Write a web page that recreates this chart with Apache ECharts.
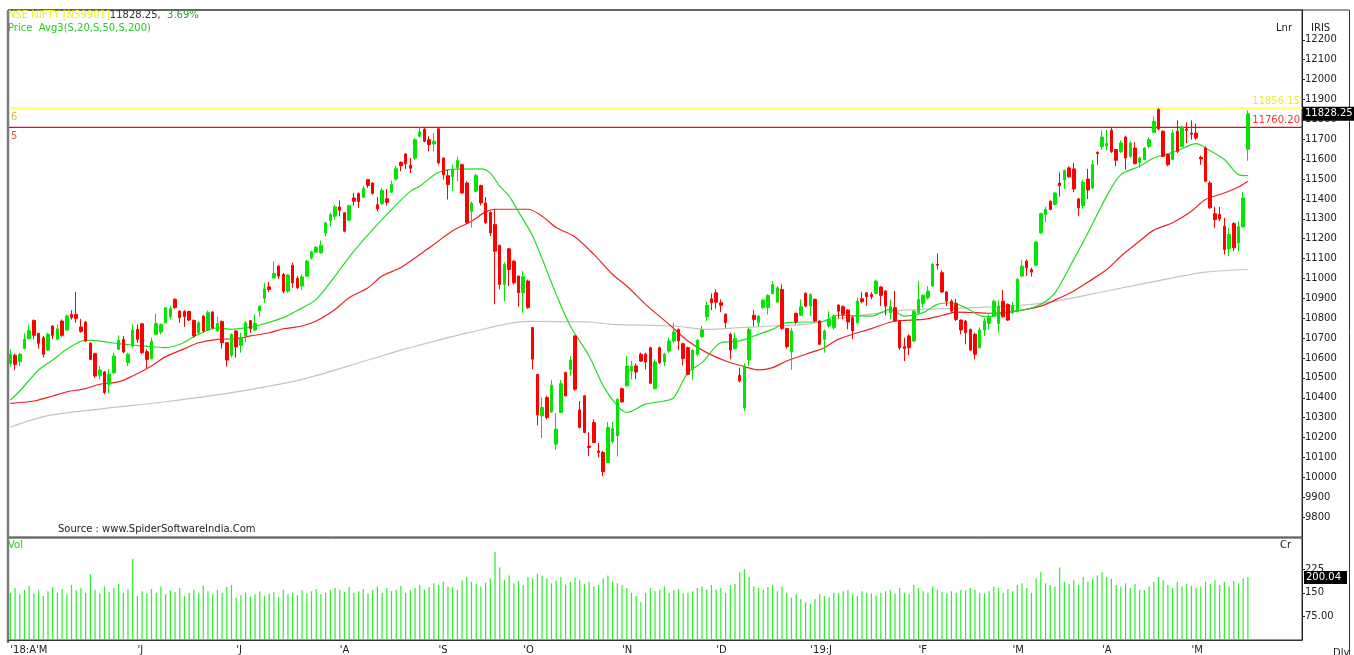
<!DOCTYPE html>
<html>
<head>
<meta charset="utf-8">
<script src="https://cdn.jsdelivr.net/npm/echarts@6/dist/echarts.min.js"></script>
<style>
  html, body { margin: 0; padding: 0; background: #fff; }
  #chart { width: 1354px; height: 655px; }
</style>
</head>
<body>
<div id="chart"></div>
<script>
// daily candles, [open, high, low, close], Apr 2018 .. 20 May 2019
const candles = [
  [10573,10644,10557,10619],[10614,10622,10540,10568],[10582,10627,10560,10619],[10647,10724,10644,10694],[10697,10769,10694,10739],
  [10789,10794,10694,10714],[10724,10727,10647,10674],[10702,10711,10602,10619],[10640,10727,10635,10719],[10761,10764,10694,10714],
  [10694,10769,10690,10747],[10786,10794,10707,10714],[10741,10819,10736,10811],[10819,10841,10794,10803],[10819,10933,10777,10799],
  [10756,10797,10727,10734],[10781,10786,10680,10685],[10674,10680,10590,10593],[10622,10627,10501,10510],[10513,10560,10493,10540],
  [10530,10535,10418,10426],[10468,10544,10423,10518],[10526,10627,10518,10610],[10644,10714,10640,10690],[10694,10711,10624,10630],
  [10577,10627,10560,10619],[10660,10769,10652,10741],[10744,10769,10677,10694],[10772,10777,10619,10627],[10632,10644,10547,10593],
  [10597,10702,10593,10685],[10719,10824,10714,10774],[10731,10774,10719,10769],[10777,10856,10774,10853],[10808,10861,10794,10849],
  [10895,10900,10848,10853],[10836,10841,10777,10804],[10834,10841,10757,10808],[10834,10838,10786,10791],[10789,10794,10702,10711],
  [10727,10786,10719,10777],[10811,10814,10727,10736],[10741,10839,10736,10828],[10831,10836,10744,10752],[10736,10808,10731,10774],
  [10784,10789,10647,10677],[10677,10680,10557,10590],[10614,10724,10602,10719],[10736,10739,10602,10655],[10664,10727,10627,10702],
  [10711,10786,10680,10777],[10788,10791,10727,10747],[10741,10819,10736,10774],[10836,10864,10808,10861],[10900,10978,10878,10948],
  [10958,10982,10931,10945],[11003,11087,11000,11025],[11062,11069,10998,11012],[11020,11028,10925,10936],[10936,11023,10928,11017],
  [11067,11079,10953,10978],[11000,11012,10948,10953],[10962,11020,10941,11008],[11012,11095,11008,11087],[11104,11140,11095,11134],
  [11132,11162,11129,11157],[11129,11191,11125,11167],[11229,11286,11212,11279],[11291,11330,11263,11321],[11313,11371,11296,11360],
  [11360,11393,11313,11343],[11330,11333,11232,11238],[11293,11371,11288,11366],[11405,11430,11366,11388],[11427,11433,11355,11386],
  [11408,11464,11405,11452],[11497,11500,11455,11468],[11480,11483,11422,11427],[11371,11410,11338,11350],[11376,11455,11371,11443],
  [11401,11450,11366,11383],[11433,11492,11430,11472],[11500,11567,11493,11552],[11584,11589,11539,11567],[11626,11631,11550,11577],
  [11569,11606,11530,11554],[11606,11706,11597,11698],[11715,11760.2,11710,11738],[11751,11757,11685,11690],[11698,11715,11639,11673],
  [11676,11731,11639,11690],[11753,11755,11573,11581],[11606,11606,11497,11522],[11517,11547,11397,11472],[11511,11572,11439,11547],
  [11556,11611,11489,11593],[11572,11578,11427,11430],[11480,11489,11276,11280],[11338,11388,11255,11377],[11439,11527,11434,11517],
  [11467,11472,11367,11380],[11380,11410,11276,11280],[11333,11338,11213,11229],[11271,11350,10870,11137],[11166,11171,10945,10970],
  [10970,11082,10886,11070],[11149,11154,10962,11045],[11087,11092,10970,10978],[11012,11015,10858,10928],[10928,11037,10828,11009],
  [10987,10995,10848,10853],[10753,10755,10543,10594],[10518,10520,10262,10313],[10309,10401,10197,10351],[10401,10410,10292,10301],
  [10329,10490,10323,10463],[10167,10323,10138,10242],[10326,10490,10323,10471],[10527,10532,10406,10410],[10543,10610,10510,10590],
  [10711,10714,10435,10443],[10339,10384,10246,10251],[10410,10413,10222,10226],[10157,10226,10108,10150],[10276,10292,10172,10175],
  [10133,10172,10100,10125],[10125,10133,10005,10028],[10075,10279,10072,10251],[10179,10279,10170,10246],[10209,10396,10105,10393],
  [10446,10451,10376,10379],[10460,10610,10456,10560],[10535,10585,10493,10557],[10560,10573,10493,10530],[10619,10627,10580,10585],
  [10619,10627,10543,10580],[10652,10657,10468,10473],[10446,10594,10443,10580],[10652,10657,10570,10577],[10580,10627,10560,10619],
  [10635,10702,10627,10686],[10686,10778,10677,10731],[10744,10748,10640,10686],[10672,10677,10563,10597],[10652,10657,10513,10518],
  [10543,10647,10490,10640],[10619,10697,10610,10689],[10707,10761,10702,10741],[10808,10886,10786,10865],[10898,10925,10841,10878],
  [10928,10945,10848,10881],[10878,10895,10831,10865],[10820,10825,10753,10778],[10719,10727,10594,10640],[10647,10727,10644,10697],
  [10513,10552,10476,10485],[10351,10573,10334,10560],[10590,10753,10560,10744],[10815,10841,10761,10794],[10778,10815,10758,10811],
  [10853,10898,10848,10891],[10853,10920,10819,10915],[10925,10987,10920,10970],[10881,10962,10878,10953],[10945,10970,10741,10748],
  [10748,10753,10647,10657],[10630,10753,10540,10736],[10825,10828,10769,10781],[10815,10895,10811,10858],[10925,10930,10855,10861],
  [10861,10925,10811,10920],[10895,10898,10780,10786],[10786,10790,10664,10669],[10694,10744,10627,10736],[10761,10836,10753,10794],
  [10753,10820,10744,10811],[10866,10870,10800,10835],[10858,10865,10794,10819],[10841,10845,10744,10781],[10803,10811,10694,10736],
  [10778,10903,10774,10886],[10898,10931,10875,10883],[10928,10931,10861,10908],[10920,10931,10895,10908],[10925,10995,10920,10987],
  [10957,10962,10861,10915],[10937,10942,10814,10861],[10828,10895,10794,10858],[10853,10937,10781,10786],[10786,10791,10640,10652],
  [10657,10702,10585,10647],[10711,10719,10614,10652],[10686,10841,10681,10836],[10828,10987,10819,10895],[10875,10920,10853,10915],
  [10903,10962,10895,10937],[10962,11079,10958,11071],[11071,11126,11045,11067],[11029,11042,10928,10932],[10932,10937,10861,10886],
  [10886,10895,10828,10836],[10875,10898,10786,10794],[10791,10794,10719,10741],[10786,10791,10669,10727],[10744,10748,10635,10640],
  [10719,10727,10594,10619],[10652,10753,10647,10741],[10741,10803,10711,10786],[10774,10819,10744,10803],[10811,10895,10808,10886],
  [10774,10891,10727,10861],[10886,10942,10803,10808],[10870,10875,10786,10791],[10828,10881,10819,10865],[10836,11004,10831,10995],
  [11012,11092,11009,11062],[11087,11096,11012,11054],[11045,11054,11009,11032],[11066,11188,11062,11183],[11229,11330,11226,11326],
  [11322,11360,11283,11347],[11388,11393,11343,11347],[11372,11434,11367,11430],[11480,11534,11413,11467],[11497,11547,11450,11544],
  [11556,11564,11506,11511],[11551,11581,11434,11450],[11400,11405,11313,11355],[11367,11497,11350,11484],[11500,11551,11400,11445],
  [11455,11594,11450,11572],[11634,11639,11572,11628],[11664,11745,11648,11711],[11668,11748,11645,11678],[11745,11762,11631,11639],
  [11648,11651,11564,11594],[11639,11695,11631,11681],[11711,11718,11547,11606],[11614,11690,11606,11681],[11656,11685,11573,11578],
  [11584,11614,11556,11606],[11598,11661,11594,11656],[11664,11711,11656,11698],[11735,11815,11731,11790],[11850,11856.15,11744,11752],
  [11740,11745,11610,11614],[11623,11628,11564,11572],[11598,11748,11594,11731],[11740,11795,11631,11639],[11664,11768,11661,11762],
  [11752,11785,11681,11745],[11731,11795,11698,11725],[11731,11778,11698,11706],[11609,11618,11572,11601],[11656,11664,11484,11489],
  [11480,11489,11350,11355],[11326,11360,11255,11296],[11322,11360,11288,11300],[11263,11305,11121,11146],[11149,11255,11112,11221],
  [11276,11283,11137,11154],[11179,11288,11137,11260],[11260,11434,11255,11405],[11650,11845,11592,11828.25]
]

// volume (Cr), one per candle
const volumes = [
  150,165,145,160,172,148,158,140,155,168, 150,162,145,175,158,166,150,210,160,148, 170,152,165,178,150,162,258,
  140,155,148,162,150,170,145,158,152,165, 140,150,160,148,172,155,145,160,150,168, 175,
  135,142,150,138,145,155,140,148,152,136, 160,145,150,142,158,148,155,162,145,150, 158,165,
  160,152,168,150,155,162,148,158,170,150, 165,155,160,172,150,158,165,175,160,168, 180,
  175,185,170,168,160,190,200,185,178,170, 182,195,280,230,190,205,180,188,
  175,200,195,210,205,195,180,188,200,176, 185,198,190,178,185,170,175,195,205,185, 180,
  175,165,150,140,120,150,165,155,160,170, 150,158,162,148,150,155,165,170,160,175,
  160,165,150,175,178,215,225,200,170,165, 160,168,175,155,170,150,135,145,130,120,
  115,130,145,140,135,150,148,155,160,145, 140,155,150,148,142,150,155,160,148,165, 150,145,175,
  165,155,150,170,160,152,148,155,150,160, 158,165,160,150,148,155,170,165,150,162,
  155,175,180,165,150,195,215,180,175,170, 230,185,178,190,175,200,185,195,205,
  215,200,195,175,170,180,165,178,160,158, 170,185,200,190,175,165,185,170,178,
  172,165,170,185,178,190,175,185,170,188, 180,195,200.04
]

// moving averages, [day, value]
const ma20 = [
  [0,10389],[2,10434],[6,10540],[9,10590],[12,10644],[16,10690],[19,10685],[23,10672],[26,10665],[30,10657],
  [33,10652],[36,10669],[39,10707],[42,10741],[44,10752],[47,10744],[50,10752],[53,10766],[58,10803],[61,10839],
  [65,10895],[69,11012],[73,11137],[77,11246],[81,11346],[85,11438],[87,11464],[91,11534],[95,11550],[100,11551],
  [102,11530],[104,11464],[106,11414],[108,11335],[111,11213],[116,10920],[119,10761],[123,10610],[126,10460],[129,10359],
  [131,10326],[135,10368],[139,10384],[141,10401],[144,10527],[147,10577],[151,10677],[155,10686],[158,10711],[162,10744],
  [165,10778],[169,10781],[172,10781],[176,10815],[183,10811],[187,10845],[190,10811],[194,10828],[197,10870],[200,10878],
  [203,10853],[206,10814],[208,10808],[212,10831],[216,10845],[219,10870],[222,10928],[226,11096],[229,11229],[233,11414],
  [236,11522],[240,11564],[243,11606],[247,11634],[251,11673],[252,11678],[254,11656],[258,11598],[261,11522],[263,11517]
]
const ma50 = [
  [0,10372],[5,10384],[9,10409],[12,10430],[16,10446],[19,10468],[23,10480],[26,10510],[30,10560],[33,10607],
  [37,10647],[40,10677],[44,10694],[48,10697],[51,10711],[55,10727],[58,10747],[62,10761],[65,10786],[69,10844],
  [72,10903],[76,10953],[79,11012],[83,11055],[87,11121],[90,11171],[94,11240],[98,11288],[101,11335],[103,11348],
  [110,11348],[113,11313],[116,11256],[120,11209],[124,11121],[128,11020],[131,10962],[135,10870],[140,10769],[144,10686],
  [148,10627],[152,10585],[156,10557],[159,10540],[162,10552],[165,10585],[169,10619],[173,10652],[176,10695],[183,10748],
  [188,10786],[194,10794],[198,10814],[201,10831],[205,10828],[208,10825],[212,10831],[215,10841],[219,10861],[222,10891],
  [226,10937],[229,10982],[233,11045],[236,11112],[240,11188],[243,11243],[247,11280],[251,11338],[254,11397],[258,11430],
  [261,11460],[263,11489]
]
const ma200 = [
  [0,10252],[8,10310],[19,10343],[33,10380],[47,10426],[62,10493],[76,10590],[83,10640],[87,10665],[97,10725],
  [110,10784],[123,10781],[128,10769],[141,10761],[148,10744],[155,10753],[162,10761],[169,10769],[176,10798],[190,10841],
  [205,10853],[219,10875],[233,10937],[247,11003],[254,11032],[263,11045]
]

// month ticks on the date axis
const monthTickIdx = [0, 27, 48, 70, 91, 109, 130, 150, 170, 193, 213, 232, 251]
const monthTickText = ["'18:A'M", "'J", "'J", "'A", "'S", "'O", "'N", "'D", "'19:J", "'F", "'M", "'A", "'M"]

const priceTicks = [9800, 9900, 10000, 10100, 10200, 10300, 10400, 10500, 10600, 10700, 10800, 10900,
  11000, 11100, 11200, 11300, 11400, 11500, 11600, 11700, 11800, 11900, 12000, 12100, 12200]
const volTicks = [75, 150, 225]
const volTickText = ['75.00', '150', '225']

// horizontal levels and their tags
const levelValues = [11856.15, 11760.20]
const levelTags = ['6', '5']
const lastClose = 11828.25
const lastVol = 200.04
const slotCount = 275

const FONT = 'DejaVu Sans'
const GREEN = '#00e600'
const RED = '#ff0000'
const levelLine = ['#ffff66', '#ff0000']
const levelWidth = [1.5, 1.3]
const levelText = ['#eded30', '#ff3030']
const levelTagColor = ['#e0c040', '#ff5050']

const slots = []
for (let i = 0; i < slotCount; i++) slots.push(i)
const tickLabel = {}
monthTickIdx.forEach((k, j) => { tickLabel[k] = monthTickText[j] })

const option = {
  animation: false,
  backgroundColor: '#ffffff',
  textStyle: { fontFamily: FONT },
  grid: [
    { left: 8, top: 10, width: 1294, height: 527, show: true, borderColor: '#333', borderWidth: 1 },
    { left: 8, top: 538, width: 1294, height: 105, show: true, borderColor: '#333', borderWidth: 1 }
  ],
  xAxis: [
    { type: 'category', gridIndex: 0, data: slots, boundaryGap: true,
      axisLine: { show: false }, axisTick: { show: false }, axisLabel: { show: false }, splitLine: { show: false } },
    { type: 'category', gridIndex: 1, data: slots, boundaryGap: true,
      axisLine: { show: true, lineStyle: { color: '#333', width: 1 } },
      axisTick: { show: false },
      axisLabel: {
        show: true, interval: (i) => tickLabel[i] !== undefined,
        formatter: (v, i) => tickLabel[i] || '',
        showMinLabel: true, hideOverlap: false,
        align: 'left', margin: 5, fontSize: 10, color: '#222', fontFamily: FONT
      },
      splitLine: { show: false } }
  ],
  yAxis: [
    { type: 'value', gridIndex: 0, position: 'right', min: 9700, max: 12350, scale: true,
      axisLine: { show: true, lineStyle: { color: '#222' } },
      axisTick: { show: true, length: 3, customValues: priceTicks, lineStyle: { color: '#222' } },
      axisLabel: { customValues: priceTicks, margin: 3, fontSize: 10, color: '#222', fontFamily: FONT,
        formatter: (v) => String(v) },
      splitLine: { show: false } },
    { type: 'value', gridIndex: 1, position: 'right', min: 0, max: 324,
      axisLine: { show: true, lineStyle: { color: '#222' } },
      axisTick: { show: true, length: 3, customValues: volTicks, lineStyle: { color: '#222' } },
      axisLabel: { customValues: volTicks, margin: 3, fontSize: 10, color: '#222', fontFamily: FONT,
        formatter: (v) => volTickText[volTicks.indexOf(v)] || '' },
      splitLine: { show: false } }
  ],
  series: [
    { name: 'MA200', type: 'line', data: ma200, xAxisIndex: 0, yAxisIndex: 0, showSymbol: false, smooth: 0.3,
      lineStyle: { color: '#c4c4c4', width: 1.2 }, z: 2 },
    { name: 'MA50', type: 'line', data: ma50, xAxisIndex: 0, yAxisIndex: 0, showSymbol: false, smooth: 0.3,
      lineStyle: { color: '#ee2222', width: 1.2 }, z: 2 },
    { name: 'MA20', type: 'line', data: ma20, xAxisIndex: 0, yAxisIndex: 0, showSymbol: false, smooth: 0.3,
      lineStyle: { color: '#22dd22', width: 1.2 }, z: 2 },
    { name: 'NIFTY', type: 'candlestick', xAxisIndex: 0, yAxisIndex: 0, barWidth: 3,
      data: candles.map(d => [d[0], d[3], d[2], d[1]]),
      itemStyle: { color: GREEN, color0: RED, borderColor: GREEN, borderColor0: RED, borderWidth: 1 },
      z: 3 },
    { name: 'Vol', type: 'bar', xAxisIndex: 1, yAxisIndex: 1, data: volumes, barWidth: 1.2,
      itemStyle: { color: '#2aee2a' } }
  ]
}

const chart = echarts.init(document.getElementById('chart'))
chart.setOption(option)

const yPrice = chart.convertToPixel({ yAxisIndex: 0 }, lastClose)
const yVol = chart.convertToPixel({ yAxisIndex: 1 }, lastVol)
const plotLeft = 9
const plotRight = 1302

const levelGraphics = []
levelValues.forEach((v, k) => {
  const y = chart.convertToPixel({ yAxisIndex: 0 }, v)
  levelGraphics.push(
    { type: 'line', shape: { x1: plotLeft, y1: y, x2: plotRight, y2: y }, style: { stroke: levelLine[k], lineWidth: levelWidth[k] }, z: 1 },
    { type: 'text', x: plotRight - 2, y: y - 7, style: { text: v.toFixed(2), fill: levelText[k], fontSize: 10, fontFamily: FONT, align: 'right', verticalAlign: 'middle' }, z: 4 },
    { type: 'text', x: 11, y: y + 9, style: { text: levelTags[k], fill: levelTagColor[k], fontSize: 10, fontFamily: FONT, verticalAlign: 'middle' }, z: 4 }
  )
})

chart.setOption({
  graphic: levelGraphics.concat([
    { type: 'line', shape: { x1: 8, y1: 10, x2: 1349, y2: 10 }, style: { stroke: '#333', lineWidth: 1 } },
    { type: 'line', shape: { x1: 1349.5, y1: 10, x2: 1349.5, y2: 655 }, style: { stroke: '#333', lineWidth: 1 } },
    { type: 'line', shape: { x1: 8, y1: 10, x2: 8, y2: 643 }, style: { stroke: '#7a7a7a', lineWidth: 2.5 } },
    { type: 'text', left: 8, top: 10, style: {
      text: '{a|NSE NIFTY [N59901]}{b|11828.25,  }{c|3.69%}',
      rich: {
        a: { fill: '#eeee22', fontSize: 10, fontFamily: FONT },
        b: { fill: '#333333', fontSize: 10, fontFamily: FONT },
        c: { fill: '#339933', fontSize: 10, fontFamily: FONT }
      } } },
    { type: 'text', left: 8, top: 23, style: { text: 'Price  Avg3(S,20,S,50,S,200)', fill: '#22cc22', fontSize: 10, fontFamily: FONT } },
    { type: 'text', left: 58, top: 524, style: { text: 'Source : www.SpiderSoftwareIndia.Com', fill: '#222', fontSize: 10, fontFamily: FONT } },
    { type: 'text', left: 1276, top: 23, style: { text: 'Lnr', fill: '#222', fontSize: 10, fontFamily: FONT } },
    { type: 'text', left: 1311, top: 23, style: { text: 'IRIS', fill: '#222', fontSize: 10, fontFamily: FONT } },
    { type: 'text', left: 8, top: 540, style: { text: 'Vol', fill: '#22cc22', fontSize: 10, fontFamily: FONT } },
    { type: 'text', left: 1280, top: 540, style: { text: 'Cr', fill: '#222', fontSize: 10, fontFamily: FONT } },
    { type: 'text', left: 1333, top: 648, style: { text: 'Dly', fill: '#222', fontSize: 10, fontFamily: FONT } },
    { type: 'rect', shape: { x: 1303, y: yPrice - 7, width: 51, height: 14 }, style: { fill: '#000' }, z: 10 },
    { type: 'text', x: 1305, y: yPrice, style: { text: lastClose.toFixed(2), fill: '#fff', fontSize: 10, fontFamily: FONT, verticalAlign: 'middle' }, z: 11 },
    { type: 'rect', shape: { x: 1304, y: yVol - 6, width: 43, height: 13 }, style: { fill: '#000' }, z: 10 },
    { type: 'text', x: 1306, y: yVol, style: { text: lastVol.toFixed(2), fill: '#fff', fontSize: 10, fontFamily: FONT, verticalAlign: 'middle' }, z: 11 }
  ])
})
</script>
</body>
</html>
